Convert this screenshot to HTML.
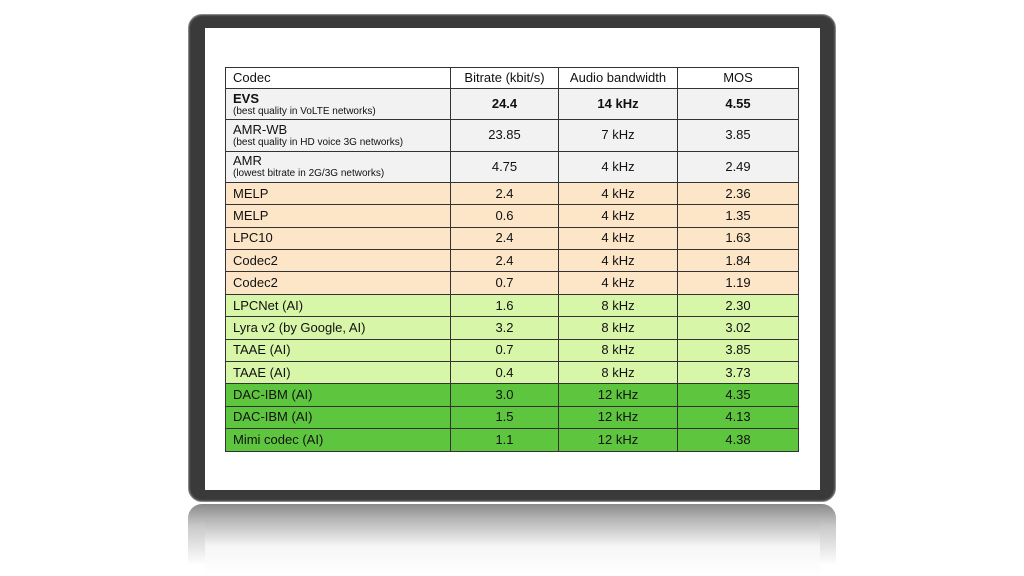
<!DOCTYPE html>
<html><head><meta charset="utf-8"><style>
body{margin:0;width:1024px;height:576px;background:#fff;position:relative;overflow:hidden;font-family:"Liberation Sans",sans-serif;}
.frame{position:absolute;left:188px;top:14px;width:648px;height:488px;background:#3a3a3a;border-radius:14px;box-shadow:0 0 2px #888 inset;border:1px solid #888;box-sizing:border-box;}
.screen{position:absolute;left:205px;top:28px;width:615px;height:462px;background:#fff;}
.refl{position:absolute;left:188px;top:504px;width:648px;height:72px;border-radius:14px 14px 0 0;background:linear-gradient(#8a8a8a,#c8c8c8 30%,#fff 85%);}
.refl .in{position:absolute;left:17px;top:13px;right:16px;bottom:0;background:linear-gradient(#b0b0b0,#f6f6f6 50%,#fff);}
table{position:absolute;left:225px;top:67px;width:574px;border-collapse:collapse;font-size:13px;color:#111;}
td{border:1px solid #333;padding:0 0 0 7px;line-height:14px;}
tr{height:22.4px}
tr.h{height:21px}
td.c{text-align:center;padding:0;}
col.a{width:225px}col.b{width:108px}col.d{width:119px}
tr.g td{background:#f2f2f2}tr.o td{background:#fde5c8}tr.l td{background:#d8f6a8}tr.k td{background:#5ec63e}
tr.t{height:31.3px}
small{font-size:10px;display:block;line-height:11px}
</style></head><body>
<div class="frame"></div>
<div class="screen"></div>
<div class="refl"><div class="in"></div></div>
<table>
<colgroup><col class="a"><col class="b"><col class="d"><col></colgroup>
<tr class="h"><td>Codec</td><td class="c">Bitrate (kbit/s)</td><td class="c">Audio bandwidth</td><td class="c">MOS</td></tr>
<tr class="g t"><td><b>EVS</b><small>(best quality in VoLTE networks)</small></td><td class="c"><b>24.4</b></td><td class="c"><b>14 kHz</b></td><td class="c"><b>4.55</b></td></tr>
<tr class="g t"><td>AMR-WB<small>(best quality in HD voice 3G networks)</small></td><td class="c">23.85</td><td class="c">7 kHz</td><td class="c">3.85</td></tr>
<tr class="g t"><td>AMR<small>(lowest bitrate in 2G/3G networks)</small></td><td class="c">4.75</td><td class="c">4 kHz</td><td class="c">2.49</td></tr>
<tr class="o"><td>MELP</td><td class="c">2.4</td><td class="c">4 kHz</td><td class="c">2.36</td></tr>
<tr class="o"><td>MELP</td><td class="c">0.6</td><td class="c">4 kHz</td><td class="c">1.35</td></tr>
<tr class="o"><td>LPC10</td><td class="c">2.4</td><td class="c">4 kHz</td><td class="c">1.63</td></tr>
<tr class="o"><td>Codec2</td><td class="c">2.4</td><td class="c">4 kHz</td><td class="c">1.84</td></tr>
<tr class="o"><td>Codec2</td><td class="c">0.7</td><td class="c">4 kHz</td><td class="c">1.19</td></tr>
<tr class="l"><td>LPCNet (AI)</td><td class="c">1.6</td><td class="c">8 kHz</td><td class="c">2.30</td></tr>
<tr class="l"><td>Lyra v2 (by Google, AI)</td><td class="c">3.2</td><td class="c">8 kHz</td><td class="c">3.02</td></tr>
<tr class="l"><td>TAAE (AI)</td><td class="c">0.7</td><td class="c">8 kHz</td><td class="c">3.85</td></tr>
<tr class="l"><td>TAAE (AI)</td><td class="c">0.4</td><td class="c">8 kHz</td><td class="c">3.73</td></tr>
<tr class="k"><td>DAC-IBM (AI)</td><td class="c">3.0</td><td class="c">12 kHz</td><td class="c">4.35</td></tr>
<tr class="k"><td>DAC-IBM (AI)</td><td class="c">1.5</td><td class="c">12 kHz</td><td class="c">4.13</td></tr>
<tr class="k"><td>Mimi codec (AI)</td><td class="c">1.1</td><td class="c">12 kHz</td><td class="c">4.38</td></tr>
</table>
</body></html>
